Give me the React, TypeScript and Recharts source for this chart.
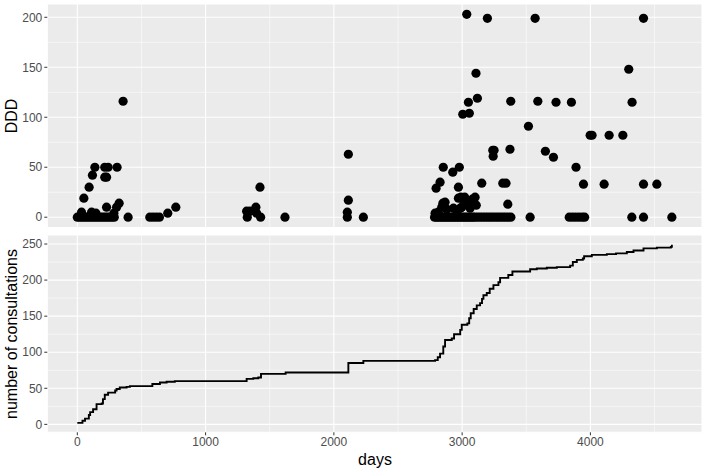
import React from 'react';
import {
  ScatterChart, Scatter, LineChart, Line, XAxis, YAxis, CartesianGrid, ReferenceLine,
} from 'recharts';

// DDD == 0 consultations (days since first consultation)
const zeroDoseDays = [
  0, 18, 36, 54, 72, 90, 108, 126, 144, 162, 180, 198, 216, 234, 252, 270, 288, 396,
  565, 590, 615, 640, 1325, 1429, 1619, 2105, 2230,
  2785, 2800, 2815, 2830, 2845, 2860, 2875, 2890, 2905, 2920, 2935, 2950, 2965, 2980, 2995,
  3010, 3025, 3040, 3055, 3070, 3085, 3100, 3120, 3140, 3160, 3180, 3200, 3220, 3240, 3260,
  3280, 3300, 3320, 3340, 3360, 3380, 3530, 3835, 3860, 3885, 3910, 3935, 3955,
  4323, 4414, 4635,
];

// consultations with a prescribed dose
const doseDays = [
  33, 51, 92, 111, 118, 137, 145, 214, 214, 228, 228, 240, 285, 306, 310, 326, 357, 705, 768,
  1320, 1346, 1392, 1398, 1424, 2113, 2113, 2105,
  3036, 3197, 3569, 4414, 4299, 3108, 3119, 3049, 3005, 3056, 3379, 3590, 3732, 3852, 4325,
  3517, 3998, 4013, 4146, 4253, 3239, 3249, 3242, 3373, 3649, 3712, 2853, 2978, 2927, 3888,
  2828, 2797, 2971, 3153, 3317, 3342, 3946, 4107, 4414, 4518, 3356,
  2789, 2814, 2841, 2850, 2867, 2880, 2932, 2960, 2971, 2985, 2990, 2997, 3010, 3020, 3040,
  3062, 3062, 3080, 3101, 3110,
];
const doseValues = [
  5, 19, 30, 5, 42, 50, 4, 50, 40, 40, 10, 50, 4, 10, 50, 14, 116, 4, 10,
  6, 6, 10, 4, 30, 63, 17, 5,
  203, 199, 199, 199, 148, 144, 119, 115, 103, 104, 116, 116, 115, 115, 115,
  91, 82, 82, 82, 82, 67, 67, 61, 68, 66, 60, 50, 50, 45, 50,
  35, 29, 30, 34, 34, 34, 33, 33, 33, 33, 13,
  4, 5, 10, 14, 15, 8, 9, 6, 19, 9, 20, 10, 17, 20, 14,
  15, 9, 18, 20, 12,
];

// cumulative number of consultations
const stepDays = [
  0, 40, 60, 90, 100, 123, 150, 190, 200, 214, 240, 295, 306, 331, 384, 410, 585, 644, 696, 760,
  1320, 1372, 1411, 1432, 1624, 2113, 2230, 2789, 2810, 2828, 2853, 2867, 2919, 2937, 2985, 2997,
  3041, 3055, 3067, 3090, 3114, 3140, 3155, 3166, 3192, 3215, 3244, 3283, 3296, 3360, 3392, 3530,
  3582, 3660, 3738, 3842, 3863, 3894, 3941, 3951, 4011, 4128, 4200, 4284, 4336, 4414, 4518, 4627, 4635,
];
const stepCounts = [
  2, 5, 8, 13, 17, 21, 28, 29, 35, 41, 44, 47, 49, 51, 52, 53, 56, 58, 59, 60,
  63, 64, 65, 70, 72, 85, 88, 89, 93, 98, 108, 117, 119, 125, 131, 138,
  140, 147, 154, 160, 165, 168, 174, 179, 182, 188, 193, 197, 203, 207, 212, 215,
  216, 217, 218, 220, 225, 228, 230, 233, 235, 236, 237, 239, 241, 244, 245, 246, 249,
];

const xTicks = [0, 1000, 2000, 3000, 4000];
const xMinor = [500, 1500, 2500, 3500, 4500];
const dddTicks = [0, 50, 100, 150, 200];
const dddMinor = [25, 75, 125, 175];
const countTicks = [0, 50, 100, 150, 200, 250];
const countMinor = [25, 75, 125, 175, 225];

const scatterData = [
  ...zeroDoseDays.map((d) => ({ day: d, ddd: 0 })),
  ...doseDays.map((d, i) => ({ day: d, ddd: doseValues[i] })),
];
const stepData = stepDays.map((d, i) => ({ day: d, count: stepCounts[i] }));

const FONT = '"Liberation Sans", Arial, Helvetica, sans-serif';
const X_DOMAIN = [-234, 4870];
const tickStyle = { fill: '#4D4D4D', fontSize: 12, fontFamily: FONT };

const Dot = (props: any) => <circle cx={props.cx} cy={props.cy} r={4.6} fill="#000" />;

export default function App() {
  return (
    <div style={{ position: 'absolute', left: 0, top: 0, width: 706, height: 471, background: '#fff', fontFamily: FONT }}>
      <div style={{ position: 'absolute', left: 0, top: 0 }}>
        <ScatterChart width={706} height={232} margin={{ top: 4, right: 4, bottom: 4.5, left: 0 }}>
          <CartesianGrid fill="#EBEBEB" stroke="#fff" strokeWidth={1.1} />
          {xMinor.map((v) => <ReferenceLine key={'x' + v} x={v} stroke="#fff" strokeWidth={0.55} />)}
          {dddMinor.map((v) => <ReferenceLine key={'y' + v} y={v} stroke="#fff" strokeWidth={0.55} />)}
          <XAxis dataKey="day" type="number" domain={X_DOMAIN} ticks={xTicks} allowDataOverflow hide />
          <YAxis
            dataKey="ddd" type="number" domain={[-10.3, 213.3]} ticks={dddTicks} allowDataOverflow
            width={47.3} axisLine={false} tickSize={3} tickMargin={2}
            tickLine={{ stroke: '#333' }} tick={tickStyle}
          />
          <Scatter data={scatterData} fill="#000" shape={Dot} isAnimationActive={false} />
        </ScatterChart>
      </div>
      <div style={{ position: 'absolute', left: 0, top: 231 }}>
        <LineChart width={706} height={240} data={stepData} margin={{ top: 4, right: 4, bottom: 0, left: 0 }}>
          <CartesianGrid fill="#EBEBEB" stroke="#fff" strokeWidth={1.1} />
          {xMinor.map((v) => <ReferenceLine key={'x' + v} x={v} stroke="#fff" strokeWidth={0.55} />)}
          {countMinor.map((v) => <ReferenceLine key={'y' + v} y={v} stroke="#fff" strokeWidth={0.55} />)}
          <XAxis
            dataKey="day" type="number" domain={X_DOMAIN} ticks={xTicks} allowDataOverflow
            height={38.7} axisLine={false} tickSize={3} tickMargin={2}
            tickLine={{ stroke: '#333' }} tick={tickStyle}
          />
          <YAxis
            type="number" domain={[-11, 262.5]} ticks={countTicks} allowDataOverflow
            width={47.3} axisLine={false} tickSize={3} tickMargin={2}
            tickLine={{ stroke: '#333' }} tick={tickStyle}
          />
          <Line
            type="stepAfter" dataKey="count" stroke="#000" strokeWidth={1.9}
            dot={false} isAnimationActive={false}
          />
        </LineChart>
      </div>
      <div style={{ position: 'absolute', left: 12, top: 116, transform: 'translate(-50%, -50%) rotate(-90deg)', fontSize: 16, color: '#000', whiteSpace: 'nowrap' }}>
        DDD
      </div>
      <div style={{ position: 'absolute', left: 12, top: 334, transform: 'translate(-50%, -50%) rotate(-90deg)', fontSize: 16, color: '#000', whiteSpace: 'nowrap' }}>
        number of consultations
      </div>
      <div style={{ position: 'absolute', left: 375, top: 460, transform: 'translate(-50%, -50%)', fontSize: 16, color: '#000', whiteSpace: 'nowrap' }}>
        days
      </div>
    </div>
  );
}
